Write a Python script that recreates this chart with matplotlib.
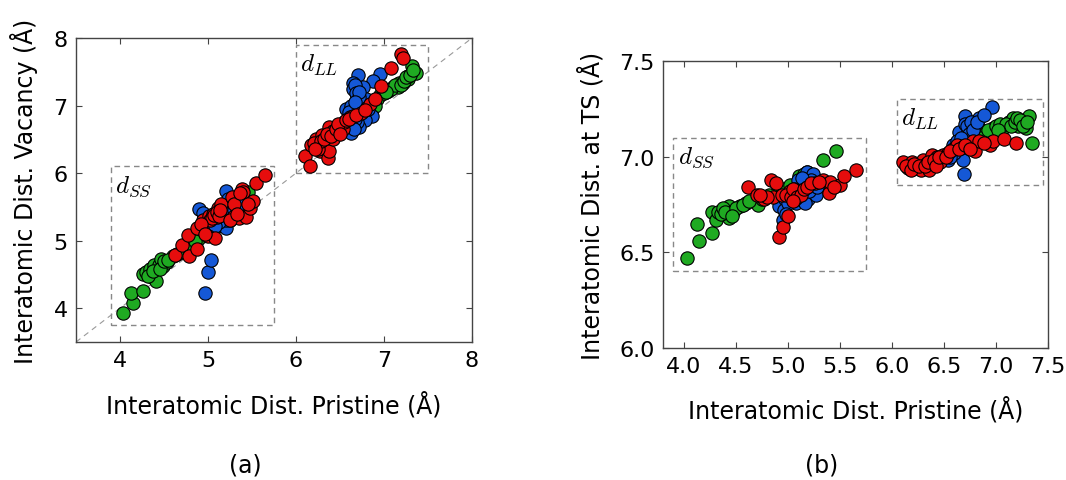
import matplotlib
matplotlib.use("Agg")
import matplotlib.pyplot as plt
from matplotlib.patches import Rectangle

plt.rcParams["font.family"] = ["DejaVu Sans"]
plt.rcParams["mathtext.fontset"] = "cm"

GREEN = "#1faa22"
BLUE = "#1558d6"
RED = "#e60d0d"

# ---- (a) pristine vs vacancy distances ----
a_green_x = [4.03, 4.15, 4.13, 4.26, 4.26, 4.30, 4.34, 4.36, 4.39, 4.41, 4.44, 4.47, 4.49, 4.53,
             4.60, 4.70, 4.75, 4.89, 4.94, 5.06, 5.14, 5.45,
             4.32, 4.38, 4.45, 4.50, 4.55, 4.65, 4.80, 4.85, 5.00, 5.10, 5.20, 5.30, 5.40,
             6.80, 6.84, 6.88, 6.95, 7.05, 7.10, 7.16, 7.17, 7.21, 7.27, 7.27, 7.32, 7.36,
             6.92, 7.00, 7.08, 7.13, 7.19, 7.23, 7.25, 7.30, 7.33, 6.90, 7.02]
a_green_y = [3.93, 4.07, 4.23, 4.25, 4.50, 4.53, 4.58, 4.46, 4.64, 4.41, 4.64, 4.73, 4.62, 4.68,
             4.78, 4.83, 4.90, 5.03, 5.12, 5.22, 5.27, 5.72,
             4.48, 4.55, 4.58, 4.70, 4.72, 4.80, 4.95, 5.00, 5.15, 5.22, 5.30, 5.45, 5.60,
             6.88, 6.92, 7.05, 7.15, 7.22, 7.27, 7.27, 7.34, 7.34, 7.39, 7.44, 7.59, 7.48,
             7.10, 7.18, 7.25, 7.30, 7.30, 7.36, 7.42, 7.45, 7.52, 7.00, 7.20]

a_blue_x = [4.97, 5.00, 5.03, 4.90, 4.94, 5.02, 5.06, 5.09, 5.15, 5.17, 5.21, 5.21, 5.25, 5.27,
            5.28, 5.34, 5.36, 5.40,
            5.12, 5.18, 5.20, 5.22, 5.25, 5.30, 5.23, 5.13, 5.08, 5.32, 5.38,
            6.70, 6.65, 6.65, 6.69, 6.70, 6.61, 6.57, 6.65, 6.63, 6.63, 6.95, 6.88, 6.76, 6.80,
            6.86, 6.78, 6.72, 6.69,
            6.67, 6.68, 6.72, 6.62, 6.60, 6.67, 6.66, 6.75, 6.82, 6.72, 6.67]
a_blue_y = [4.22, 4.53, 4.71, 5.47, 5.41, 5.25, 5.31, 5.39, 5.51, 5.34, 5.74, 5.19, 5.31, 5.40,
            5.50, 5.62, 5.48, 5.60,
            5.45, 5.40, 5.30, 5.48, 5.55, 5.45, 5.62, 5.28, 5.22, 5.52, 5.55,
            7.45, 7.34, 7.24, 7.14, 7.10, 6.97, 6.95, 6.85, 6.73, 6.60, 7.46, 7.37, 7.27, 7.10,
            6.85, 6.78, 6.68, 6.75,
            7.30, 7.18, 7.12, 7.00, 6.90, 6.80, 6.65, 6.90, 6.95, 7.20, 7.05]

a_red_x = [4.63, 4.70, 4.77, 4.78, 4.87, 4.87, 4.94, 5.00, 5.01, 5.06, 5.08, 5.10, 5.11, 5.15,
           5.27, 5.28, 5.35, 5.39, 5.40, 5.43, 5.48, 5.51, 5.54, 5.65,
           5.02, 5.05, 5.07, 5.10, 5.12, 5.14, 4.92, 4.97, 5.30, 5.36, 5.45, 5.25, 5.33,
           6.10, 6.16, 6.17, 6.23, 6.27, 6.30, 6.33, 6.36, 6.38, 6.38, 6.42, 6.42, 6.46, 6.52,
           6.53, 6.55, 6.61, 6.65, 6.74, 6.84, 6.97, 7.08, 7.19, 7.22,
           6.20, 6.25, 6.28, 6.32, 6.35, 6.40, 6.45, 6.48, 6.50, 6.57, 6.60, 6.68, 6.78, 6.90, 6.22]
a_red_y = [4.79, 4.93, 5.09, 4.77, 5.19, 4.88, 5.31, 5.07, 5.36, 5.40, 5.04, 5.35, 5.48, 5.55,
           5.65, 5.35, 5.33, 5.77, 5.72, 5.35, 5.48, 5.59, 5.85, 5.97,
           5.30, 5.33, 5.38, 5.42, 5.37, 5.45, 5.25, 5.10, 5.55, 5.70, 5.55, 5.30, 5.40,
           6.26, 6.10, 6.41, 6.51, 6.33, 6.56, 6.38, 6.22, 6.68, 6.33, 6.51, 6.63, 6.60, 6.68,
           6.65, 6.75, 6.83, 6.85, 6.89, 7.02, 7.29, 7.56, 7.77, 7.70,
           6.45, 6.35, 6.48, 6.50, 6.58, 6.55, 6.65, 6.72, 6.58, 6.78, 6.80, 6.86, 6.93, 7.10, 6.36]

# ---- (b) pristine vs transition-state distances ----
b_green_x = [4.03, 4.15, 4.13, 4.27, 4.27, 4.31, 4.33, 4.43, 4.43, 4.47, 4.54, 4.60, 4.67, 4.71,
             4.89, 5.11, 5.18, 5.34, 5.46,
             4.36, 4.38, 4.40, 4.50, 4.57, 4.63, 4.75, 4.82, 4.95, 5.02, 5.15, 4.46,
             6.80, 6.84, 6.89, 6.94, 6.97, 7.07, 7.12, 7.16, 7.21, 7.24, 7.28, 7.29, 7.32, 7.35,
             6.86, 6.92, 7.00, 7.04, 7.10, 7.14, 7.18, 7.20, 7.23, 7.26, 7.30, 7.02]
b_green_y = [6.47, 6.56, 6.65, 6.60, 6.71, 6.67, 6.71, 6.74, 6.68, 6.71, 6.74, 6.76, 6.77, 6.75,
             6.81, 6.90, 6.92, 6.98, 7.03,
             6.70, 6.73, 6.71, 6.73, 6.75, 6.77, 6.78, 6.80, 6.83, 6.85, 6.91, 6.69,
             7.12, 7.15, 7.12, 7.13, 7.15, 7.15, 7.18, 7.20, 7.16, 7.17, 7.19, 7.15, 7.21, 7.07,
             7.10, 7.14, 7.16, 7.17, 7.17, 7.16, 7.18, 7.20, 7.19, 7.16, 7.18, 7.14]

b_blue_x = [4.91, 4.95, 4.97, 5.05, 5.08, 5.10, 5.13, 5.18, 5.19, 5.24, 5.24, 5.27, 5.31,
            4.96, 5.00, 5.02, 5.06, 5.12, 5.15, 5.16, 5.20, 5.22, 5.28, 4.98, 5.14,
            6.54, 6.59, 6.64, 6.65, 6.68, 6.69, 6.70, 6.70, 6.70, 6.73, 6.80, 6.84, 6.96,
            6.72, 6.74, 6.76, 6.78, 6.82, 6.88, 6.62, 6.66, 6.60, 6.56]
b_blue_y = [6.74, 6.67, 6.78, 6.78, 6.76, 6.88, 6.82, 6.92, 6.78, 6.91, 6.85, 6.80, 6.85,
            6.72, 6.76, 6.80, 6.83, 6.78, 6.84, 6.76, 6.82, 6.88, 6.84, 6.70, 6.89,
            6.98, 7.06, 7.13, 7.04, 6.98, 6.91, 7.21, 7.17, 7.10, 7.13, 7.17, 7.20, 7.26,
            7.16, 7.12, 7.18, 7.14, 7.18, 7.22, 7.08, 7.10, 7.02, 7.00]

b_red_x = [4.62, 4.70, 4.77, 4.84, 4.86, 4.89, 4.91, 4.94, 4.95, 5.00, 5.02, 5.07, 5.07, 5.10,
           5.11, 5.26, 5.34, 5.39, 5.39, 5.40, 5.50, 5.54, 5.65,
           4.98, 5.03, 5.05, 5.09, 5.13, 5.15, 5.18, 5.22, 5.30, 5.44, 4.80, 4.73, 5.05,
           6.11, 6.15, 6.19, 6.23, 6.28, 6.30, 6.33, 6.36, 6.38, 6.43, 6.46, 6.49, 6.54, 6.59,
           6.62, 6.68, 6.73, 6.78, 6.80, 6.84, 6.94, 6.97, 7.08, 7.19,
           6.13, 6.18, 6.21, 6.26, 6.32, 6.35, 6.40, 6.42, 6.45, 6.52, 6.56, 6.64, 6.70, 6.75, 6.88]
b_red_y = [6.84, 6.80, 6.78, 6.88, 6.79, 6.86, 6.58, 6.80, 6.63, 6.69, 6.82, 6.81, 6.78, 6.80,
           6.82, 6.86, 6.88, 6.86, 6.81, 6.87, 6.85, 6.90, 6.93,
           6.80, 6.79, 6.83, 6.79, 6.80, 6.83, 6.84, 6.86, 6.87, 6.84, 6.79, 6.80, 6.77,
           6.97, 6.94, 6.97, 6.94, 6.93, 6.98, 6.96, 6.93, 7.01, 7.00, 6.97, 7.01, 7.02, 7.04,
           7.06, 7.05, 7.05, 7.08, 7.03, 7.08, 7.06, 7.08, 7.09, 7.07,
           6.95, 6.93, 6.96, 6.95, 6.95, 6.97, 6.98, 6.95, 7.00, 7.00, 7.03, 7.04, 7.06, 7.04, 7.07]

# dashed regions: (x0, y0, x1, y1)
a_box_ss = (3.9, 3.75, 5.75, 6.1)
a_box_ll = (6.0, 6.0, 7.5, 7.9)
b_box_ss = (3.9, 6.4, 5.75, 7.1)
b_box_ll = (6.05, 6.85, 7.45, 7.3)

TICK_FS = 16
LABEL_FS = 17
MS = 92


def style(ax):
    for s in ax.spines.values():
        s.set_color("#444444")
        s.set_linewidth(1.0)
    ax.tick_params(direction="in", top=True, right=True, length=4, width=0.8,
                   color="#444444", labelsize=TICK_FS, pad=6)


def draw_box(ax, box, label):
    x0, y0, x1, y1 = box
    ax.add_patch(Rectangle((x0, y0), x1 - x0, y1 - y0, fill=False, ls=(0, (4, 3)),
                           lw=1.0, ec="#888888", zorder=1))
    ax.annotate(label, (x0, y1), xytext=(3, -5), textcoords="offset points",
                fontsize=18, va="top", ha="left")


def scatter(ax, xs, ys, c):
    ax.scatter(xs, ys, s=MS, c=c, edgecolors="black", linewidths=0.8, zorder=3)


fig = plt.figure(figsize=(10.66, 4.81), dpi=100)

# panel (a)
ax1 = fig.add_axes([0.0713, 0.2869, 0.3715, 0.632])
ax1.set_xlim(3.5, 8)
ax1.set_ylim(3.5, 8)
ax1.plot([3.5, 8], [3.5, 8], ls=(0, (5, 4)), color="#999999", lw=0.8, zorder=0)
draw_box(ax1, a_box_ss, r"$d_{SS}$")
draw_box(ax1, a_box_ll, r"$d_{LL}$")
scatter(ax1, a_green_x, a_green_y, GREEN)
scatter(ax1, a_blue_x, a_blue_y, BLUE)
scatter(ax1, a_red_x, a_red_y, RED)
ax1.set_xticks([4, 5, 6, 7, 8])
ax1.set_yticks([4, 5, 6, 7, 8])
ax1.set_xlabel("Interatomic Dist. Pristine (Å)", fontsize=LABEL_FS, labelpad=15)
ax1.set_ylabel("Interatomic Dist. Vacancy (Å)", fontsize=LABEL_FS, labelpad=11)
style(ax1)

# panel (b)
ax2 = fig.add_axes([0.622, 0.2744, 0.3612, 0.5967])
ax2.set_xlim(3.8, 7.5)
ax2.set_ylim(6.0, 7.5)
draw_box(ax2, b_box_ss, r"$d_{SS}$")
draw_box(ax2, b_box_ll, r"$d_{LL}$")
scatter(ax2, b_green_x, b_green_y, GREEN)
scatter(ax2, b_blue_x, b_blue_y, BLUE)
scatter(ax2, b_red_x, b_red_y, RED)
ax2.set_xticks([4.0, 4.5, 5.0, 5.5, 6.0, 6.5, 7.0, 7.5])
ax2.set_yticks([6.0, 6.5, 7.0, 7.5])
ax2.set_xticklabels(["4.0", "4.5", "5.0", "5.5", "6.0", "6.5", "7.0", "7.5"])
ax2.set_yticklabels(["6.0", "6.5", "7.0", "7.5"])
ax2.set_xlabel("Interatomic Dist. Pristine (Å)", fontsize=LABEL_FS, labelpad=14)
ax2.set_ylabel("Interatomic Dist. at TS (Å)", fontsize=LABEL_FS, labelpad=11)
style(ax2)

fig.text(245 / 1066, 1 - 466 / 481, "(a)", fontsize=17, ha="center", va="center")
fig.text(822 / 1066, 1 - 466 / 481, "(b)", fontsize=17, ha="center", va="center")

fig.savefig("out.png", dpi=100)
